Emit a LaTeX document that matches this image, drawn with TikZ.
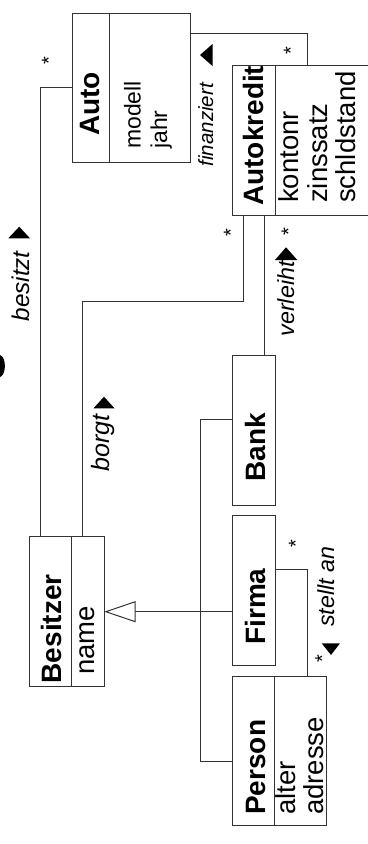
\documentclass[tikz,border=0pt]{standalone}
\usepackage{fontspec}
\setmainfont{Liberation Sans}
\usetikzlibrary{calc,arrows.meta}
\begin{document}
\begin{tikzpicture}[x=0.75pt,y=-0.75pt,
  box/.style={draw=black!80, line width=0.75pt, rectangle, inner sep=0pt, outer sep=0pt},
  conn/.style={draw=black!80, line width=0.75pt},
  divider/.style={draw=black!80, line width=0.75pt},
  nm/.style={rotate=90, anchor=base west, inner sep=0pt, font=\fontsize{21}{24}\selectfont\bfseries},
  attr/.style={rotate=90, anchor=base west, inner sep=0pt, font=\fontsize{20.6}{24}\selectfont},
  smallattr/.style={rotate=90, anchor=base west, inner sep=0pt, font=\fontsize{17.2}{20}\selectfont},
  lab/.style={rotate=90, anchor=base west, inner sep=0pt},
  mult/.style={rotate=90, anchor=base, inner sep=0pt, font=\fontsize{15}{18}\selectfont},
  marker/.style={fill=black}
]
\useasboundingbox (0,0) rectangle (368,844);
\fill[white] (0,0) rectangle (368,844);
\clip (0,0) rectangle (368,844);

% class boxes
\node[box, minimum width=88.5pt, minimum height=111.75pt] (auto) at (131,87.5) {};
\node[box, minimum width=104.475pt, minimum height=112.5pt] (autokredit) at (302.35,140.7) {};
\node[box, minimum width=31.95pt, minimum height=112.5pt] (bank) at (254,430) {};
\node[box, minimum width=31.95pt, minimum height=111.975pt] (firma) at (254,590.35) {};
\node[box, minimum width=69.975pt, minimum height=112.275pt] (person) at (279.35,750.85) {};
\node[box, minimum width=56.25pt, minimum height=112.5pt] (besitzer) at (66.8,611.7) {};

% compartment dividers
\draw[divider] ($(auto.north west)+(37,0)$) -- ($(auto.south west)+(37,0)$);
\draw[divider] ($(autokredit.north west)+(42.8,0)$) -- ($(autokredit.south west)+(42.8,0)$);
\draw[divider] ($(person.north west)+(41.6,0)$) -- ($(person.south west)+(41.6,0)$);
\draw[divider] ($(besitzer.north west)+(42.4,0)$) -- ($(besitzer.south west)+(42.4,0)$);

% texts in boxes
\node[nm] (tAuto) at (99,136) {Auto};
\node[smallattr] (tModell) at (140.5,149) {modell};
\node[smallattr] (tJahr) at (167,149) {jahr};
\node[nm] (tAutokredit) at (263.5,206) {Autokredit};
\node[attr] (tKontonr) at (298,203) {kontonr};
\node[attr] (tZinssatz) at (327,203) {zinssatz};
\node[attr] (tSchld) at (355.5,203) {schldstand};
\node[nm] (tBank) at (265,481.5) {Bank};
\node[nm] (tFirma) at (265,645) {Firma};
\node[nm] (tPerson) at (265,815) {Person};
\node[attr] (tAlter) at (295,815) {alter};
\node[attr] (tAdresse) at (323.3,815) {adresse};
\node[nm] (tBesitzer) at (61.7,683.5) {Besitzer};
\node[attr] (tName) at (94,675) {name};

% connectors
\coordinate (besIn) at ($(besitzer.north west)+(11,0)$);
\draw[conn] (auto.west) -| (besIn);

\coordinate (finOut) at ($(auto.north east)+(0,20.7)$);
\coordinate (finIn) at ($(autokredit.north west)+(74.3,0)$);
\draw[conn] (finOut) -| (finIn);

\coordinate (borgtOut) at ($(autokredit.south west)+(10.3,0)$);
\coordinate (borgtBend) at (0,301);
\coordinate (borgtIn) at ($(besitzer.north west)+(53,0)$);
\draw[conn] (borgtOut) -- (borgtOut |- borgtBend) -| (borgtIn);

\coordinate (verlOut) at ($(autokredit.south west)+(32,0)$);
\draw[conn] (verlOut) -- (verlOut |- bank.north);

\coordinate (stOut) at ($(firma.north east)+(0,53.3)$);
\coordinate (stIn) at ($(person.north west)+(74.6,0)$);
\draw[conn] (stOut) -| (stIn);

% generalization
\coordinate (trunk) at (200.3,0);
\coordinate (bankIn) at ($(bank.north west)+(0,64.3)$);
\coordinate (personIn) at ($(person.north west)+(0,85.7)$);
\draw[conn] (bankIn) -- (trunk |- bankIn) -- (trunk |- personIn) -- (personIn);
\draw[conn, -{Triangle[open, length=23.5pt, width=15.75pt, fill=white]}] (firma.west |- besitzer.east) -- (besitzer.east);

% association labels
\node[lab, font=\fontsize{15.4}{18}\selectfont\itshape] (lFin) at (213,166.7) {finanziert};
\node[lab, font=\fontsize{18.2}{21}\selectfont\itshape] (lBes) at (29,321.7) {besitzt};
\node[lab, font=\fontsize{18.8}{21}\selectfont\itshape] (lBorgt) at (109,471.7) {borgt};
\node[lab, font=\fontsize{17.5}{21}\selectfont\itshape] (lVerl) at (294,336.7) {verleiht};
\node[lab, font=\fontsize{17.4}{21}\selectfont\itshape] (lSt) at (334,627) {stellt an};

% direction markers
\fill[marker] (200,55) -- (212.5,44) -- (212.5,66) -- cycle;
\fill[marker] (19.2,226.7) -- (8.3,238.3) -- (30,238.3) -- cycle;
\fill[marker] (104,396.7) -- (93.5,408.3) -- (114.5,408.3) -- cycle;
\fill[marker] (286,247.3) -- (275,260) -- (297.3,260) -- cycle;
\fill[marker] (331,655) -- (321.7,643.3) -- (340,643.3) -- cycle;

% multiplicities
\node[mult] (m1) at (55.7,61) {*};
\node[mult] (m2) at (297.5,50.8) {*};
\node[mult] (m3) at (237.5,232.5) {*};
\node[mult] (m4) at (295.4,231.7) {*};
\node[mult] (m5) at (302.5,543.3) {*};
\node[mult] (m6) at (329.2,659) {*};

% clipped glyph fragment at left edge
\fill (0,355) .. controls (6.5,357) and (6.5,375) .. (0,377) -- cycle;
\end{tikzpicture}
\end{document}
